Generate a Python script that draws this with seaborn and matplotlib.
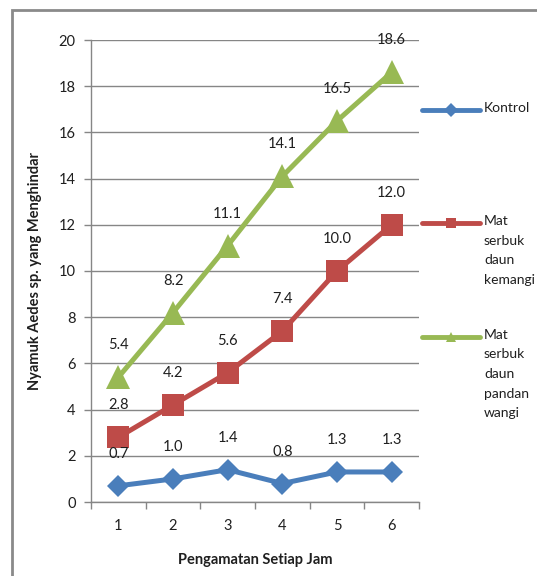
import matplotlib
matplotlib.use("Agg")
import matplotlib.pyplot as plt
from matplotlib.lines import Line2D
from matplotlib.patches import Rectangle
from matplotlib.ticker import FixedLocator
import seaborn as sns

# Observation hours and mean number of repelled mosquitoes
hours = [1, 2, 3, 4, 5, 6]
kontrol = [0.7, 1.0, 1.4, 0.8, 1.3, 1.3]
kemangi = [2.8, 4.2, 5.6, 7.4, 10.0, 12.0]
pandan = [5.4, 8.2, 11.1, 14.1, 16.5, 18.6]

series_names = ["Kontrol", "Mat\nserbuk\ndaun\nkemangi", "Mat\nserbuk\ndaun\npandan\nwangi"]
series_values = [kontrol, kemangi, pandan]
series_colors = ["#4A7EBB", "#BE4B48", "#98B954"]
series_markers = ["D", "s", "^"]
series_ms = [11.5, 15.5, 17]

y_ticks = list(range(0, 21, 2))

sns.set_theme(style="white")
plt.rcParams["font.family"] = ["Lato", "DejaVu Sans"]

W, H = 537, 576
fig = plt.figure(figsize=(W / 100, H / 100), dpi=100)
ax = fig.add_axes([91 / W, 1 - 502 / H, (419 - 91) / W, (502 - 40) / H])

text_color = "#1f1f1f"
for vals, col, mk, ms in zip(series_values, series_colors, series_markers, series_ms):
    sns.lineplot(x=hours, y=vals, ax=ax, color=col, marker=mk, markersize=ms,
                 markeredgewidth=0, linewidth=3.6, legend=False, zorder=3)
    for h, v in zip(hours, vals):
        ax.annotate(f"{v:.1f}", (h, v), xytext=(0, 23), textcoords="offset points",
                    ha="center", va="center", fontsize=10.5, color=text_color, zorder=4)

ax.set_xlim(0.5, 6.5)
ax.set_ylim(0, 20)
ax.set_yticks(y_ticks)
ax.set_xticks(hours)
ax.xaxis.set_minor_locator(FixedLocator([h - 0.5 for h in hours] + [hours[-1] + 0.5]))
ax.tick_params(axis="x", which="major", length=0, pad=12, labelsize=10.5, labelcolor=text_color)
ax.tick_params(axis="x", which="minor", length=5, width=1, color="#868686", direction="out", bottom=True)
ax.tick_params(axis="y", which="major", length=5, width=1, color="#868686", direction="out",
               left=True, pad=6, labelsize=10.5, labelcolor=text_color)

ax.grid(axis="y", color="#868686", linewidth=1)
ax.grid(axis="x", visible=False)
ax.set_axisbelow(True)
for side in ["top", "right"]:
    ax.spines[side].set_visible(False)
for side in ["left", "bottom"]:
    ax.spines[side].set_color("#868686")
    ax.spines[side].set_linewidth(1)

ax.set_xlabel("Pengamatan Setiap Jam", fontsize=10.5, fontweight="bold", color=text_color)
ax.set_ylabel("Nyamuk Aedes sp. yang Menghindar", fontsize=10.5, fontweight="bold", color=text_color)
ax.xaxis.set_label_coords(0.5, -(560 - 502) / (502 - 40))
ax.xaxis.label.set_va("center")
ax.yaxis.set_label_coords(-(91 - 35) / (419 - 91), 0.5)
ax.yaxis.label.set_va("center")

# Legend at the right, each handle aligned with the first line of its text
legend_rows = [110, 223, 337]
for name, col, mk, y in zip(series_names, series_colors, series_markers, legend_rows):
    fy = 1 - y / H
    fig.add_artist(Line2D([422 / W, 480 / W], [fy, fy], color=col, linewidth=3.5,
                          transform=fig.transFigure))
    fig.add_artist(Line2D([451 / W], [fy], color=col, marker=mk, markersize=7,
                          markeredgewidth=0, transform=fig.transFigure))
    fig.text(484 / W, fy + 8 / H, name, ha="left", va="top", fontsize=10,
             color=text_color, linespacing=1.75)

# Chart frame
fig.add_artist(Rectangle((12 / W, -0.05), 1.2, 1 - 10 / H + 0.05, fill=False,
                         edgecolor="#8a8a8a", linewidth=2, transform=fig.transFigure))

fig.savefig("out.png", dpi=100)
